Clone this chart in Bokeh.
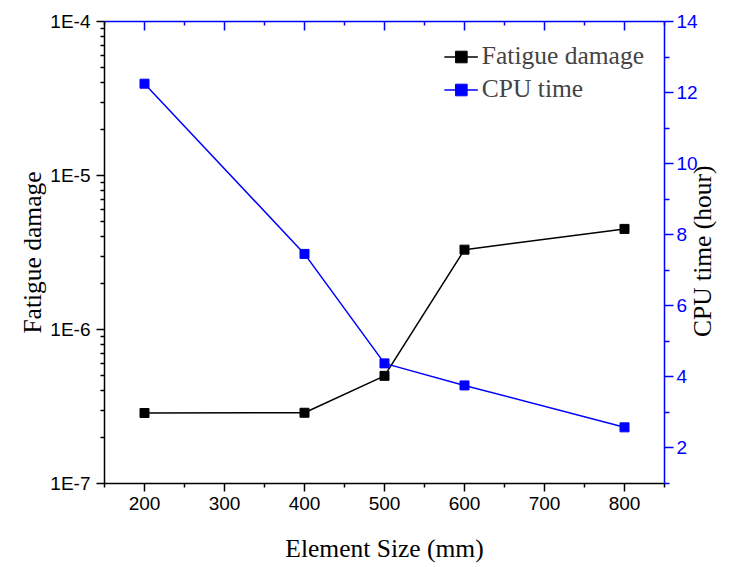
import math
from bokeh.plotting import figure
from bokeh.models import (Range1d, LinearAxis, LinearScale, FixedTicker, CustomJSTickFormatter,
                          CustomLabelingPolicy)
from bokeh.embed import file_html
from bokeh.resources import INLINE

# ---- data ----
element_size = [200, 400, 500, 600, 800]
fatigue_damage = [2.87e-7, 2.88e-7, 5.0e-7, 3.3e-6, 4.5e-6]
cpu_time = [12.25, 7.46, 4.38, 3.76, 2.58]

x_ticks = [200, 300, 400, 500, 600, 700, 800]
x_minor = [150, 250, 350, 450, 550, 650, 750, 850]
log_ticks = [1e-7, 1e-6, 1e-5, 1e-4]
log_minor = [m * d for d in [1e-7, 1e-6, 1e-5] for m in range(2, 10)]
cpu_ticks = [2, 4, 6, 8, 10, 12, 14]
cpu_minor = [1, 3, 5, 7, 9, 11, 13]

BLUE = "#0000FF"
SANS = "Liberation Sans"
SERIF = "Liberation Serif"
TITLE_SIZE = "25.5px"

p = figure(width=734, height=567, x_range=Range1d(150, 850), y_range=Range1d(1e-7, 1e-4),
           y_axis_type="log", output_backend="svg", toolbar_location=None,
           min_border_left=104, min_border_right=69, min_border_top=18, min_border_bottom=84)
p.outline_line_color = None
p.xgrid.visible = False
p.ygrid.visible = False
p.extra_y_ranges = {"cpu": Range1d(1, 14)}
p.extra_y_scales = {"cpu": LinearScale()}

# fatigue damage
p.line(element_size, fatigue_damage, line_color="black", line_width=1.5, legend_label="Fatigue damage")
p.scatter(element_size, fatigue_damage, marker="square", size=9, color="black", legend_label="Fatigue damage")
# cpu time
p.line(element_size, cpu_time, line_color=BLUE, line_width=1.5, y_range_name="cpu", legend_label="CPU time")
p.scatter(element_size, cpu_time, marker="square", size=9, color=BLUE, y_range_name="cpu", legend_label="CPU time")

def style_axis(ax, color, tick_in, tick_out, minor_in, minor_out):
    ax.axis_line_color = color
    ax.axis_line_width = 1.5
    ax.major_tick_line_color = color
    ax.minor_tick_line_color = color
    ax.major_tick_line_width = 1.5
    ax.minor_tick_line_width = 1.5
    ax.major_tick_in = tick_in
    ax.major_tick_out = tick_out
    ax.minor_tick_in = minor_in
    ax.minor_tick_out = minor_out
    ax.major_label_text_font = SANS
    ax.major_label_text_font_size = "19px"
    ax.major_label_text_color = color
    ax.axis_label_text_font = SERIF
    ax.axis_label_text_font_size = TITLE_SIZE
    ax.axis_label_text_font_style = "normal"
    ax.axis_label_text_color = "black"

# bottom axis
xa = p.xaxis[0]
xa.ticker = FixedTicker(ticks=x_ticks, minor_ticks=x_minor)
style_axis(xa, "black", 0, 8, 0, 4)
xa.major_label_standoff = 5
xa.axis_label = "Element Size (mm)"
xa.axis_label_standoff = 21

# left axis
ya = p.yaxis[0]
ya.ticker = FixedTicker(ticks=log_ticks, minor_ticks=log_minor)
ya.formatter = CustomJSTickFormatter(code="return '1E' + Math.round(Math.log10(tick));")
style_axis(ya, "black", 0, 8, 0, 4)
ya.major_label_standoff = 6
ya.axis_label = "Fatigue damage"
ya.axis_label_standoff = 0

# top axis (ticks only, no labels)
ta = LinearAxis(ticker=FixedTicker(ticks=x_ticks, minor_ticks=x_minor))
style_axis(ta, BLUE, 9, 0, 4, 0)
ta.major_label_policy = CustomLabelingPolicy(code="for (const i of indices) indices.unset(i)")
p.add_layout(ta, "above")

# right axis (label reads bottom-to-top)
ra = LinearAxis(y_range_name="cpu", ticker=FixedTicker(ticks=cpu_ticks, minor_ticks=cpu_minor))
style_axis(ra, BLUE, 0, 9, 0, 5)
ra.major_label_standoff = 3
ra.axis_label_standoff = 2
props = LinearAxis.properties()
if "axis_label_orientation" in props and "axis_label_align" in props:
    ra.axis_label_orientation = math.pi / 2
    ra.axis_label_align = "start"
    ra.axis_label = "\u00a0" * 23 + "CPU time (hour)"
else:
    ra.axis_label = "CPU time (hour)"
p.add_layout(ra, "right")

lg = p.legend[0]
lg.location = "top_right"
lg.margin = 20
lg.padding = 13
lg.border_line_color = None
lg.background_fill_alpha = 0
lg.label_text_font = SERIF
lg.label_text_font_size = TITLE_SIZE
lg.glyph_width = 34
lg.glyph_height = 29
lg.label_height = 29
lg.spacing = 3
lg.label_standoff = 4

open("out.html", "w").write(file_html(p, INLINE))
